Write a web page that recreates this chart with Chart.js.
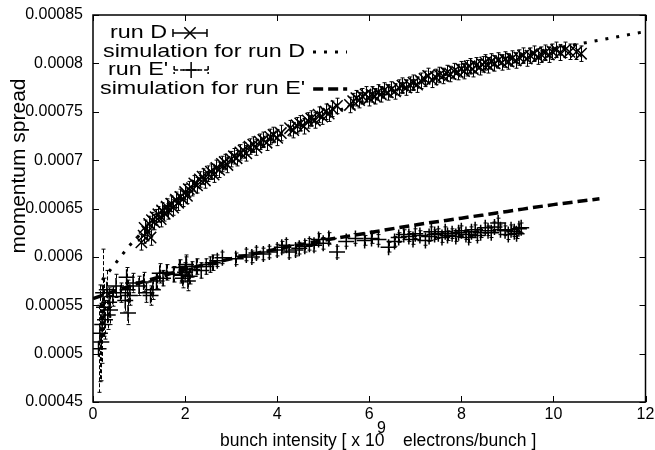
<!DOCTYPE html>
<html>
<head>
<meta charset="utf-8">
<script src="https://cdn.jsdelivr.net/npm/chart.js@4"></script>
<style>
  html, body { margin: 0; padding: 0; background: #fff; }
  canvas { display: block; }
</style>
</head>
<body>
<canvas id="chart" width="655" height="450"></canvas>
<script>
// run D measurements
const runDX = [1.05, 1.10, 1.12, 1.18, 1.22, 1.25, 1.28, 1.33, 1.36, 1.42, 1.47, 1.50, 1.55, 1.60, 1.63, 1.70, 1.74,
  1.80, 1.85, 1.90, 1.95, 2.00, 2.04, 2.08, 2.15, 2.20, 2.26, 2.32, 2.38, 2.43, 2.50, 2.56, 2.62, 2.68, 2.74,
  2.80, 2.86, 2.92, 3.00, 3.06, 3.12, 3.20, 3.27, 3.33, 3.40, 3.48, 3.55, 3.62, 3.70, 3.77, 3.85, 3.92, 4.00,
  4.08, 4.28, 4.35, 4.42, 4.50, 4.58, 4.66, 4.74, 4.82, 4.90, 4.98, 5.05, 5.12, 5.20, 5.30, 5.58, 5.65, 5.72,
  5.78, 5.85, 5.92, 6.00, 6.05, 6.12, 6.18, 6.25, 6.32, 6.40, 6.48, 6.56, 6.64, 6.72, 6.80, 6.88, 6.96, 7.04,
  7.12, 7.20, 7.28, 7.36, 7.44, 7.52, 7.60, 7.68, 7.76, 7.84, 7.92, 8.00, 8.06, 8.12, 8.18, 8.25, 8.32, 8.40,
  8.46, 8.52, 8.58, 8.65, 8.72, 8.80, 8.88, 8.95, 9.02, 9.10, 9.18, 9.26, 9.34, 9.42, 9.50, 9.58, 9.66, 9.74,
  9.82, 9.90, 9.98, 10.06, 10.15, 10.25, 10.35, 10.50, 10.60];
const runDY = [0.000615, 0.000622, 0.000630, 0.000626, 0.000634, 0.000620, 0.000638, 0.000636, 0.000641, 0.000644,
  0.000639, 0.000648, 0.000645, 0.000652, 0.000647, 0.000655, 0.000651, 0.000659, 0.000656, 0.000662,
  0.000660, 0.000667, 0.000663, 0.000670, 0.000671, 0.000676, 0.000674, 0.000680, 0.000683, 0.000679,
  0.000686, 0.000688, 0.000685, 0.000692, 0.000690, 0.000696, 0.000698, 0.000695, 0.000701, 0.000704,
  0.000702, 0.000708, 0.000710, 0.000707, 0.000714, 0.000716, 0.000713, 0.000719, 0.000721, 0.000718,
  0.000724, 0.000726, 0.000723, 0.000728, 0.000733, 0.000731, 0.000736, 0.000738, 0.000735, 0.000741,
  0.000743, 0.000741, 0.000747, 0.000745, 0.000750, 0.000748, 0.000753, 0.000756, 0.000757, 0.000761,
  0.000764, 0.000762, 0.000766, 0.000768, 0.000764, 0.000768, 0.000766, 0.000770, 0.000768, 0.000772,
  0.000770, 0.000773, 0.000771, 0.000775, 0.000777, 0.000775, 0.000778, 0.000780, 0.000778, 0.000782,
  0.000784, 0.000787, 0.000783, 0.000786, 0.000788, 0.000787, 0.000790, 0.000789, 0.000792, 0.000791,
  0.000794, 0.000792, 0.000795, 0.000797, 0.000794, 0.000798, 0.000796, 0.000799, 0.000801, 0.000798,
  0.000802, 0.000800, 0.000803, 0.000801, 0.000804, 0.000802, 0.000805, 0.000803, 0.000806, 0.000808,
  0.000805, 0.000808, 0.000810, 0.000807, 0.000809, 0.000811, 0.000809, 0.000812, 0.000814, 0.000811,
  0.000814, 0.000812, 0.000812, 0.000810];

// simulation for run D
const simDX = [0.2, 0.4, 0.6, 0.8, 1.0, 1.5, 2.0, 2.5, 3.0, 4.0, 5.0, 6.0, 7.0, 8.0, 9.0, 10.0, 11.0, 12.0];
const simDY = [0.000576, 0.000588, 0.000600, 0.000612, 0.000622, 0.000645, 0.000665, 0.000683, 0.000698,
  0.000724, 0.000745, 0.000763, 0.000779, 0.000793, 0.000805, 0.000815, 0.000824, 0.000833];

// run E' measurements with vertical errors
const runEX = [0.12, 0.15, 0.18, 0.2, 0.22, 0.24, 0.26, 0.3, 0.32, 0.35, 0.37, 0.43, 0.5, 0.6, 0.7, 0.73, 0.75,
  0.76, 0.8, 0.87, 1.0, 1.1, 1.16, 1.25, 1.3, 1.38, 1.45, 1.52, 1.6, 1.75, 1.88, 1.92, 1.95, 2.0, 2.02, 2.03,
  2.06, 2.1, 2.15, 2.25, 2.35, 2.46, 2.55, 2.6, 2.7, 2.81, 3.1, 3.33, 3.45, 3.55, 3.7, 3.83, 4.0, 4.1, 4.2,
  4.26, 4.4, 4.48, 4.6, 4.7, 4.8, 4.9, 5.0, 5.12, 5.3, 5.5, 5.7, 5.9, 6.05, 6.2, 6.42, 6.55, 6.64, 6.75,
  6.86, 6.95, 7.0, 7.1, 7.22, 7.3, 7.35, 7.42, 7.5, 7.58, 7.65, 7.7, 7.8, 7.88, 7.94, 8.0, 8.1, 8.16, 8.22,
  8.3, 8.35, 8.42, 8.52, 8.58, 8.65, 8.72, 8.8, 8.85, 8.95, 9.02, 9.08, 9.15, 9.2, 9.25, 9.3];
const runEY = [0.000505, 0.000521, 0.000512, 0.000530, 0.000563, 0.000548, 0.000535, 0.000566, 0.000540, 0.000553,
  0.000545, 0.000559, 0.000570, 0.000563, 0.000555, 0.000579, 0.000566, 0.000542, 0.000560, 0.000573,
  0.000570, 0.000574, 0.000563, 0.000560, 0.000566, 0.000575, 0.000583, 0.000578, 0.000584, 0.000582,
  0.000589, 0.000581, 0.000578, 0.000584, 0.000592, 0.000590, 0.000575, 0.000580, 0.000587, 0.000590,
  0.000586, 0.000590, 0.000592, 0.000594, 0.000596, 0.000599, 0.000598, 0.000602, 0.000600, 0.000604,
  0.000603, 0.000605, 0.000607, 0.000610, 0.000612, 0.000605, 0.000607, 0.000609, 0.000611, 0.000613,
  0.000612, 0.000618, 0.000614, 0.000619, 0.000605, 0.000616, 0.000619, 0.000617, 0.000619, 0.000618,
  0.000610, 0.000616, 0.000620, 0.000623, 0.000621, 0.000618, 0.000624, 0.000622, 0.000617, 0.000621,
  0.000626, 0.000623, 0.000624, 0.000620, 0.000626, 0.000622, 0.000624, 0.000621, 0.000625, 0.000627,
  0.000623, 0.000620, 0.000626, 0.000628, 0.000622, 0.000625, 0.000630, 0.000627, 0.000625, 0.000631,
  0.000635, 0.000628, 0.000627, 0.000623, 0.000628, 0.000626, 0.000624, 0.000629, 0.000630];
const runEErr = [0.000045, 0.00005, 0.00004, 0.00004, 0.000045, 0.00003, 0.00002, 0.00002, 0.000015, 0.000015,
  0.000015, 0.00001, 0.000012, 0.00001, 0.000012, 0.00001, 0.00001, 0.000012, 0.00001, 0.00001,
  0.00001, 0.00001, 0.00001, 0.00001, 0.00001, 0.000008, 0.00001, 0.000008, 0.000008, 0.000008,
  0.000008, 0.000008, 0.00001, 0.00001, 0.00001, 0.00001, 0.00001, 0.000008, 0.000008, 0.000008,
  0.000008, 0.000008, 0.000008, 0.000008, 0.000006, 0.000006, 0.000006, 0.000006, 0.000006, 0.000006,
  0.000006, 0.000006, 0.000006, 0.000006, 0.000006, 0.000006, 0.000006, 0.000006, 0.000006, 0.000006,
  0.000006, 0.000006, 0.000006, 0.000006, 0.000006, 0.000005, 0.000005, 0.000005, 0.000005, 0.000005,
  0.000005, 0.000005, 0.000005, 0.000005, 0.000005, 0.000005, 0.000005, 0.000005, 0.000005, 0.000005,
  0.000005, 0.000005, 0.000005, 0.000005, 0.000005, 0.000005, 0.000005, 0.000005, 0.000005, 0.000005,
  0.000005, 0.000005, 0.000005, 0.000005, 0.000005, 0.000005, 0.000005, 0.000005, 0.000005, 0.000005,
  0.000005, 0.000005, 0.000005, 0.000005, 0.000005, 0.000005, 0.000005, 0.000005, 0.000005];

// simulation for run E'
const simEX = [0, 0.5, 1, 1.5, 2, 3, 4, 5, 6, 7, 8, 9, 10, 11];
const simEY = [0.000557, 0.000565, 0.000573, 0.000580, 0.000587, 0.000598, 0.000608, 0.000617, 0.000625,
  0.000633, 0.000640, 0.000647, 0.000654, 0.000660];

const labels = ["run D", "simulation for run D", "run E'", "simulation for run E'"];

const pts = (xs, ys) => xs.map((x, i) => ({ x, y: ys[i] }));
const FONT = '"Liberation Sans", Arial, sans-serif';

function drawMarker(ctx, style, x, y, r) {
  ctx.beginPath();
  if (style === 'crossRot') {
    const d = r * 0.707;
    ctx.moveTo(x - d, y - d); ctx.lineTo(x + d, y + d);
    ctx.moveTo(x - d, y + d); ctx.lineTo(x + d, y - d);
  } else {
    ctx.moveTo(x - r, y); ctx.lineTo(x + r, y);
    ctx.moveTo(x, y - r); ctx.lineTo(x, y + r);
  }
  ctx.stroke();
}

const errorBars = {
  id: 'errorBars',
  afterDatasetsDraw(chart) {
    const { ctx, scales: { x, y } } = chart;
    chart.data.datasets.forEach(ds => {
      if (ds.errY === undefined) return;
      ctx.save();
      ctx.strokeStyle = '#000';
      ctx.lineWidth = 1;
      ctx.setLineDash(ds.errDash || []);
      ds.data.forEach((p, j) => {
        const e = Array.isArray(ds.errY) ? ds.errY[j] : ds.errY;
        const px = Math.round(x.getPixelForValue(p.x)) + 0.5;
        const top = y.getPixelForValue(p.y + e), bot = y.getPixelForValue(p.y - e);
        ctx.beginPath();
        ctx.moveTo(px, top); ctx.lineTo(px, bot);
        ctx.moveTo(px - 2, top); ctx.lineTo(px + 2, top);
        ctx.moveTo(px - 2, bot); ctx.lineTo(px + 2, bot);
        ctx.stroke();
      });
      ctx.restore();
    });
  }
};

const frame = {
  id: 'frame',
  afterDraw(chart) {
    const { ctx, chartArea: a, scales: { x, y } } = chart;
    ctx.save();
    ctx.strokeStyle = '#000';
    ctx.lineWidth = 1.5;
    ctx.strokeRect(a.left, a.top, a.right - a.left, a.bottom - a.top);

    // inward ticks on all four sides
    ctx.lineWidth = 1;
    ctx.beginPath();
    x.ticks.forEach(t => {
      const px = Math.round(x.getPixelForValue(t.value)) + 0.5;
      ctx.moveTo(px, a.bottom); ctx.lineTo(px, a.bottom - 6);
      ctx.moveTo(px, a.top); ctx.lineTo(px, a.top + 6);
    });
    y.ticks.forEach(t => {
      const py = Math.round(y.getPixelForValue(t.value)) + 0.5;
      ctx.moveTo(a.left, py); ctx.lineTo(a.left + 6, py);
      ctx.moveTo(a.right, py); ctx.lineTo(a.right - 6, py);
    });
    ctx.stroke();

    // legend
    ctx.fillStyle = '#000';
    ctx.textBaseline = 'middle';
    ctx.font = '19px ' + FONT;
    const sx = 202 / ctx.measureText(labels[1]).width;
    const rows = [{ x: 110, y: 33 }, { x: 103, y: 52 }, { x: 108, y: 70 }, { x: 100, y: 89 }];
    rows.forEach((row, i) => {
      const ds = chart.data.datasets[i];
      ctx.save();
      ctx.translate(row.x, row.y);
      ctx.scale(sx, 1);
      ctx.fillText(ds.label, 0, 0);
      ctx.restore();
      const s0 = row.x + ctx.measureText(ds.label).width * sx + 6;
      ctx.save();
      ctx.strokeStyle = '#000';
      if (ds.errY !== undefined) {
        const s1 = s0 + 34, mid = (s0 + s1) / 2;
        ctx.lineWidth = 1.5;
        ctx.setLineDash(ds.errDash || []);
        ctx.beginPath();
        ctx.moveTo(s0, row.y); ctx.lineTo(s1, row.y);
        ctx.moveTo(s0, row.y - 4); ctx.lineTo(s0, row.y + 4);
        ctx.moveTo(s1, row.y - 4); ctx.lineTo(s1, row.y + 4);
        ctx.stroke();
        ctx.setLineDash([]);
        drawMarker(ctx, ds.pointStyle, mid, row.y, ds.pointRadius);
      } else {
        ctx.lineWidth = ds.borderWidth;
        ctx.setLineDash(ds.borderDash);
        ctx.beginPath();
        ctx.moveTo(s0 + 2, row.y); ctx.lineTo(s0 + 36, row.y);
        ctx.stroke();
      }
      ctx.restore();
    });

    // x axis title with superscript
    ctx.textBaseline = 'alphabetic';
    ctx.font = '17.5px ' + FONT;
    ctx.fillText('bunch intensity [ x 10', 220, 446);
    ctx.font = '16px ' + FONT;
    ctx.fillText('9', 377, 433);
    ctx.font = '17.5px ' + FONT;
    ctx.fillText('electrons/bunch ]', 403, 446);

    // y axis title
    ctx.save();
    ctx.translate(19, 166);
    ctx.rotate(-Math.PI / 2);
    ctx.font = '21px ' + FONT;
    ctx.textAlign = 'center';
    ctx.textBaseline = 'middle';
    ctx.fillText('momentum spread', 0, 0);
    ctx.restore();
    ctx.restore();
  }
};

new Chart(document.getElementById('chart'), {
  type: 'scatter',
  data: {
    datasets: [
      {
        label: labels[0],
        data: pts(runDX, runDY),
        pointStyle: 'crossRot',
        pointRadius: 8,
        borderColor: '#000',
        backgroundColor: '#000',
        borderWidth: 1.5,
        errY: 0.000008
      },
      {
        label: labels[1],
        data: pts(simDX, simDY),
        showLine: true,
        pointRadius: 0,
        borderColor: '#000',
        borderWidth: 3,
        borderDash: [3, 8],
        cubicInterpolationMode: 'monotone'
      },
      {
        label: labels[2],
        data: pts(runEX, runEY),
        pointStyle: 'cross',
        pointRadius: 8,
        borderColor: '#000',
        backgroundColor: '#000',
        borderWidth: 1.5,
        errY: runEErr,
        errDash: [4, 2]
      },
      {
        label: labels[3],
        data: pts(simEX, simEY),
        showLine: true,
        pointRadius: 0,
        borderColor: '#000',
        borderWidth: 3.5,
        borderDash: [10, 5],
        cubicInterpolationMode: 'monotone'
      }
    ]
  },
  options: {
    responsive: false,
    animation: false,
    devicePixelRatio: 1,
    layout: { padding: { top: 15, right: 7, left: 0, bottom: 0 } },
    plugins: { legend: { display: false }, tooltip: { enabled: false } },
    scales: {
      x: {
        type: 'linear',
        min: 0,
        max: 12,
        ticks: { stepSize: 2, color: '#000', font: { size: 16, family: FONT }, padding: 3, maxRotation: 0 },
        grid: { display: false, drawTicks: false },
        border: { display: false },
        afterFit: s => { s.height = 48; s.paddingLeft = 0; s.paddingRight = 0; }
      },
      y: {
        min: 0.00045,
        max: 0.00085,
        ticks: {
          stepSize: 0.00005,
          color: '#000',
          font: { size: 16, family: FONT },
          padding: 10,
          callback: v => String(Number(v.toFixed(5)))
        },
        grid: { display: false, drawTicks: false },
        border: { display: false },
        afterFit: s => { s.width = 93; s.paddingTop = 0; s.paddingBottom = 0; }
      }
    }
  },
  plugins: [errorBars, frame]
});
</script>
</body>
</html>
